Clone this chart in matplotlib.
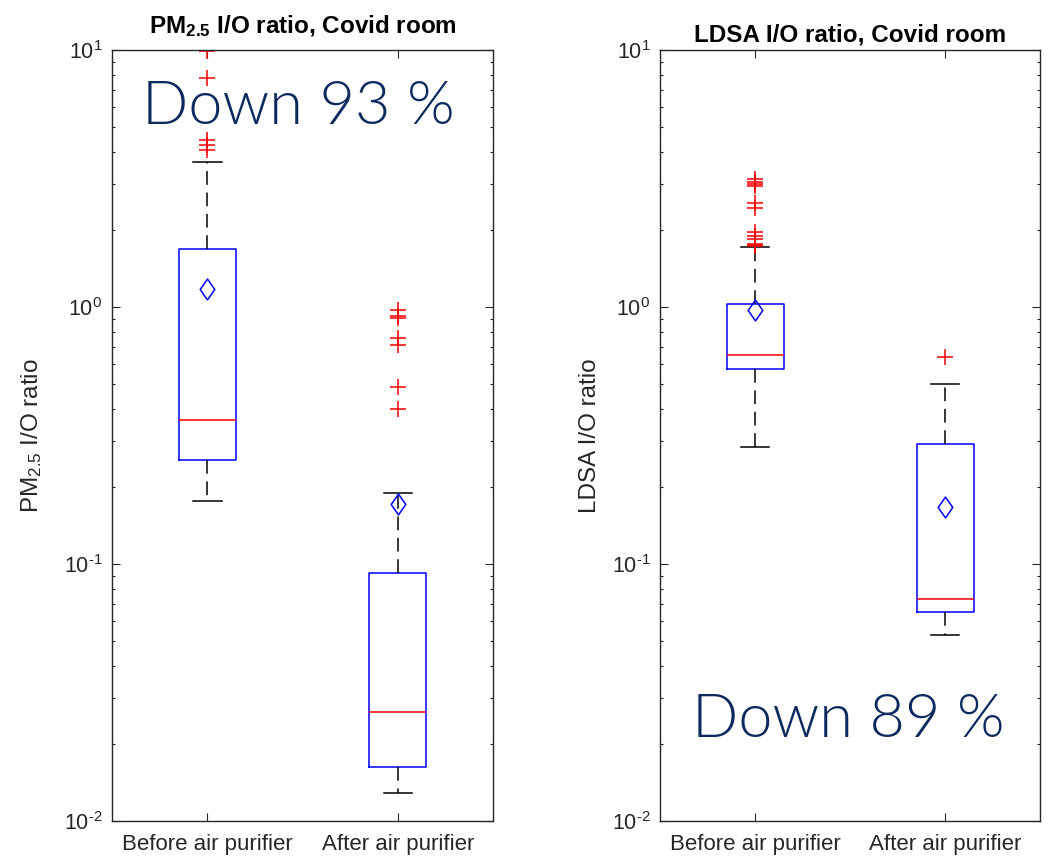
import numpy as np
import matplotlib
matplotlib.use("Agg")
import matplotlib.pyplot as plt
from matplotlib.path import Path
from matplotlib.ticker import FuncFormatter

plt.rcParams["font.family"] = ["Liberation Sans", "DejaVu Sans"]
plt.rcParams["mathtext.fontset"] = "custom"
plt.rcParams["mathtext.rm"] = "Liberation Sans"
plt.rcParams["mathtext.it"] = "Liberation Sans:italic"
plt.rcParams["mathtext.bf"] = "Liberation Sans:bold"
plt.rcParams["axes.unicode_minus"] = False

GROUPS = ["Before air purifier", "After air purifier"]

# PM2.5 I/O ratio, box statistics
pm_q1 = [0.254, 0.0162]
pm_med = [0.362, 0.0265]
pm_q3 = [1.68, 0.0923]
pm_whislo = [0.176, 0.0128]
pm_whishi = [3.66, 0.189]
pm_mean = [1.18, 0.171]
pm_fliers = [[4.08, 4.27, 4.47, 7.8, 9.9],
             [0.40, 0.49, 0.71, 0.76, 0.91, 0.92, 0.97]]

# LDSA I/O ratio
ld_q1 = [0.574, 0.0649]
ld_med = [0.650, 0.0729]
ld_q3 = [1.027, 0.292]
ld_whislo = [0.286, 0.053]
ld_whishi = [1.706, 0.50]
ld_mean = [0.973, 0.167]
ld_fliers = [[1.72, 1.74, 1.76, 1.84, 1.89, 1.96, 2.42, 2.55, 2.96, 3.0, 3.06, 3.15],
             [0.641]]

TITLES = ["PM$_{\\mathbf{2.5}}$ I/O ratio, Covid room", "LDSA I/O ratio, Covid room"]
YLABELS = ["PM$_{2.5}$ I/O ratio", "LDSA I/O ratio"]
NOTES = ["Down 93 %", "Down 89 %"]

AX_COL = "#262626"
NAVY = "#0c2a5e"

# MATLAB-like diamond (taller than wide)
diamond = Path([(0, 1), (0.7, 0), (0, -1), (-0.7, 0), (0, 1)],
               [Path.MOVETO, Path.LINETO, Path.LINETO, Path.LINETO, Path.CLOSEPOLY])


def pow10(v, pos):
    e = int(round(np.log10(v)))
    s = str(e).replace("-", "\u2010")
    return "$\\mathdefault{10^{%s}}$" % s


def make_stats(q1, med, q3, lo, hi, mean, fliers):
    return [dict(q1=q1[i], med=med[i], q3=q3[i], whislo=lo[i], whishi=hi[i],
                 mean=mean[i], fliers=fliers[i], label=GROUPS[i])
            for i in range(len(GROUPS))]


def draw(ax, stats, title, ylabel, note, note_xy, title_pad, ylab_x):
    ax.bxp(stats, positions=[1, 2], widths=0.3, showmeans=True,
           boxprops=dict(color="blue", lw=1.1),
           medianprops=dict(color="red", lw=1.1),
           whiskerprops=dict(color="black", lw=1.1, ls=(0, (9, 5))),
           capprops=dict(color="black", lw=1.1),
           flierprops=dict(marker="+", markeredgecolor="red", markersize=11,
                           markeredgewidth=1.1, ls="none"),
           meanprops=dict(marker=diamond, markeredgecolor="blue",
                          markerfacecolor="none", markersize=15, markeredgewidth=1.1))
    ax.set_yscale("log")
    ax.set_ylim(0.01, 10)
    ax.set_xlim(0.5, 2.5)
    ax.yaxis.set_major_formatter(FuncFormatter(pow10))
    ax.tick_params(which="both", direction="in", top=True, right=True,
                   color=AX_COL, labelcolor=AX_COL)
    ax.tick_params(which="major", length=5.5, width=0.8)
    ax.tick_params(which="minor", length=2.5, width=0.8)
    ax.tick_params(axis="x", pad=9, labelsize=16)
    ax.tick_params(axis="y", pad=7, labelsize=15.5)
    for s in ax.spines.values():
        s.set_color(AX_COL)
        s.set_linewidth(1.0)
    ax.set_title(title, fontsize=17.5, fontweight="bold", pad=title_pad)
    ax.set_ylabel(ylabel, fontsize=17.5, color=AX_COL)
    ax.yaxis.set_label_coords(ylab_x, 0.5)
    ax.text(note_xy[0], note_xy[1], note, transform=ax.transAxes,
            ha="center", va="center", fontsize=44, color=NAVY,
            family="Lato", fontweight=300)


fig = plt.figure(figsize=(10.5, 8.59), dpi=100)
ax1 = fig.add_axes([0.1067, 0.0442, 0.3629, 0.8976])
ax2 = fig.add_axes([0.6286, 0.0442, 0.3619, 0.8976])

draw(ax1, make_stats(pm_q1, pm_med, pm_q3, pm_whislo, pm_whishi, pm_mean, pm_fliers),
     TITLES[0], YLABELS[0], NOTES[0], (0.488, 0.926), 12, -0.179)
draw(ax2, make_stats(ld_q1, ld_med, ld_q3, ld_whislo, ld_whishi, ld_mean, ld_fliers),
     TITLES[1], YLABELS[1], NOTES[1], (0.495, 0.131), 6, -0.155)

fig.savefig("out.png", dpi=100)
